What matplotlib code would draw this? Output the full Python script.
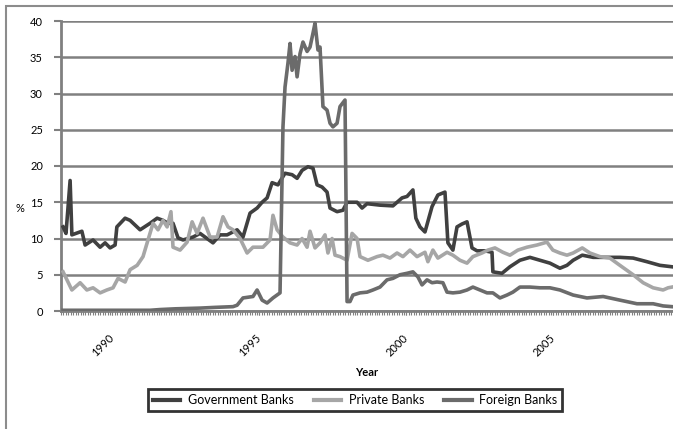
import matplotlib
matplotlib.use("Agg")
import matplotlib.pyplot as plt
from matplotlib.patches import Rectangle
from matplotlib.ticker import FixedLocator, MultipleLocator
import numpy as np

# decimal years and % values for each bank group
gov_t = [1988.34, 1988.44, 1988.58, 1988.64, 1988.98, 1989.09, 1989.36, 1989.60, 1989.77, 1989.94,
         1990.11, 1990.17, 1990.45, 1990.62, 1990.96, 1991.30, 1991.54, 1991.74, 1991.91, 1992.08,
         1992.25, 1992.42, 1992.76, 1993.00, 1993.44, 1993.68, 1993.92, 1994.26, 1994.46, 1994.70,
         1994.94, 1995.11, 1995.28, 1995.45, 1995.65, 1995.89, 1996.13, 1996.30, 1996.47, 1996.67,
         1996.84, 1996.98, 1997.15, 1997.32, 1997.42, 1997.66, 1997.86, 1998.00, 1998.34, 1998.51,
         1998.68, 1999.12, 1999.56, 1999.87, 2000.04, 2000.24, 2000.34, 2000.48, 2000.65, 2000.89,
         2001.09, 2001.33, 2001.43, 2001.60, 2001.74, 2001.91, 2002.08, 2002.25, 2002.42, 2002.69,
         2002.93, 2002.96, 2003.27, 2003.54, 2003.88, 2004.22, 2004.56, 2004.90, 2005.24, 2005.48,
         2005.69, 2006.00, 2006.37, 2006.84, 2007.28, 2007.73, 2008.20, 2008.64, 2009.05]
gov_v = [11.6, 10.7, 18.0, 10.5, 11.0, 9.1, 9.8, 8.8, 9.4, 8.7,
         9.1, 11.6, 12.8, 12.5, 11.2, 12.1, 12.8, 12.5, 12.1, 12.1,
         10.1, 9.8, 10.2, 10.7, 9.4, 10.5, 10.5, 11.2, 10.2, 13.5,
         14.2, 15.0, 15.6, 17.7, 17.4, 19.0, 18.8, 18.3, 19.4, 19.9,
         19.7, 17.4, 17.1, 16.4, 14.2, 13.7, 13.9, 15.0, 15.0, 14.2,
         14.8, 14.6, 14.5, 15.6, 15.8, 16.7, 12.8, 11.6, 10.9, 14.4,
         16.0, 16.4, 9.4, 8.4, 11.6, 12.0, 12.3, 8.7, 8.3, 8.3,
         8.1, 5.4, 5.2, 6.1, 7.0, 7.4, 7.0, 6.6, 5.9, 6.3,
         7.0, 7.7, 7.4, 7.4, 7.4, 7.3, 6.8, 6.3, 6.1]

priv_t = [1988.34, 1988.64, 1988.92, 1989.15, 1989.36, 1989.60, 1989.83, 1990.04, 1990.21, 1990.45,
          1990.62, 1990.86, 1991.06, 1991.23, 1991.40, 1991.57, 1991.74, 1991.88, 1992.01, 1992.08,
          1992.32, 1992.56, 1992.73, 1992.90, 1993.10, 1993.34, 1993.58, 1993.78, 1993.95, 1994.12,
          1994.36, 1994.60, 1994.80, 1995.14, 1995.38, 1995.48, 1995.62, 1995.82, 1996.06, 1996.30,
          1996.47, 1996.64, 1996.74, 1996.91, 1997.08, 1997.25, 1997.35, 1997.49, 1997.59, 1997.76,
          1998.00, 1998.17, 1998.34, 1998.44, 1998.71, 1999.02, 1999.22, 1999.46, 1999.70, 1999.90,
          2000.14, 2000.38, 2000.65, 2000.75, 2000.92, 2001.09, 2001.40, 2001.60, 2001.84, 2002.08,
          2002.28, 2002.59, 2002.79, 2003.03, 2003.30, 2003.54, 2003.81, 2004.12, 2004.46, 2004.80,
          2005.00, 2005.24, 2005.48, 2005.69, 2006.00, 2006.26, 2006.60, 2006.94, 2007.28, 2007.73,
          2008.07, 2008.41, 2008.75, 2008.92, 2009.05]
priv_v = [5.4, 2.9, 3.9, 2.9, 3.2, 2.5, 2.9, 3.2, 4.5, 4.0,
          5.7, 6.3, 7.5, 9.8, 12.1, 11.2, 12.5, 11.6, 13.7, 8.8,
          8.4, 9.5, 12.3, 10.7, 12.8, 10.2, 10.2, 13.0, 11.6, 11.2,
          10.0, 8.0, 8.8, 8.8, 9.8, 13.2, 11.2, 10.2, 9.4, 9.1,
          10.0, 8.8, 11.0, 8.7, 9.4, 10.5, 8.0, 10.0, 7.7, 7.5,
          7.0, 10.7, 10.0, 7.5, 7.0, 7.5, 7.7, 7.3, 8.0, 7.5,
          8.4, 7.5, 8.1, 6.8, 8.4, 7.3, 8.1, 7.7, 7.0, 6.6,
          7.5, 8.0, 8.4, 8.7, 8.1, 7.7, 8.4, 8.8, 9.1, 9.5,
          8.4, 8.0, 7.7, 8.0, 8.7, 8.0, 7.5, 7.3, 6.3, 5.0,
          3.9, 3.2, 2.9, 3.2, 3.3]

for_t = [1988.34, 1989.60, 1991.30, 1991.64, 1992.15, 1993.00, 1993.51, 1994.12, 1994.26, 1994.46,
         1994.80, 1994.94, 1995.11, 1995.28, 1995.48, 1995.72, 1995.82, 1995.89, 1995.99, 1996.06,
         1996.13, 1996.23, 1996.30, 1996.40, 1996.50, 1996.64, 1996.74, 1996.84, 1996.91, 1997.01,
         1997.08, 1997.18, 1997.32, 1997.42, 1997.52, 1997.66, 1997.76, 1997.93, 1998.00, 1998.10,
         1998.20, 1998.44, 1998.68, 1998.88, 1999.12, 1999.36, 1999.56, 1999.80, 2000.04, 2000.24,
         2000.41, 2000.55, 2000.72, 2000.89, 2001.06, 2001.26, 2001.40, 2001.60, 2001.84, 2002.08,
         2002.28, 2002.52, 2002.76, 2002.96, 2003.20, 2003.44, 2003.64, 2003.88, 2004.22, 2004.56,
         2004.90, 2005.24, 2005.69, 2006.16, 2006.71, 2007.28, 2007.86, 2008.41, 2008.75, 2009.05]
for_v = [0.1, 0.1, 0.1, 0.2, 0.3, 0.4, 0.5, 0.6, 0.8, 1.8,
         2.0, 2.9, 1.5, 1.1, 1.8, 2.5, 25.4, 30.9, 34.2, 36.9,
         33.2, 35.1, 32.3, 35.5, 37.1, 35.8, 36.4, 38.3, 39.7, 36.0,
         36.4, 28.2, 27.7, 25.9, 25.4, 25.9, 28.2, 29.1, 1.3, 1.3,
         2.2, 2.5, 2.6, 2.9, 3.3, 4.3, 4.5, 5.0, 5.2, 5.4,
         4.7, 3.6, 4.3, 3.9, 4.0, 3.9, 2.6, 2.5, 2.6, 2.9,
         3.3, 2.9, 2.5, 2.5, 1.8, 2.2, 2.6, 3.3, 3.3, 3.2,
         3.2, 2.9, 2.2, 1.8, 2.0, 1.5, 1.0, 1.0, 0.7, 0.6]

year_ticks = [1990, 1995, 2000, 2005]
series = [("Government Banks", gov_t, gov_v, "#404040"),
          ("Private Banks", priv_t, priv_v, "#a6a6a6"),
          ("Foreign Banks", for_t, for_v, "#6b6b6b")]

plt.rcParams["font.family"] = ["Lato", "DejaVu Sans"]
grid_c = "#808080"

fig = plt.figure(figsize=(6.73, 4.29), dpi=100)
ax = fig.add_axes([61 / 673, 1 - 311 / 429, 612 / 673, 290 / 429])

# outer chart border
fig.patches.append(Rectangle((6 / 673, -0.1), 1.2, 1.1 - 6 / 429, transform=fig.transFigure,
                             fill=False, ec="#8c8c8c", lw=1.5))

for name, t, v, c in series:
    ax.plot(t, v, color=c, lw=2.6, label=name, solid_joinstyle="round", zorder=3)

ax.set_xlim(1988.27, 1988.27 + 612 / 29.4)
ax.set_ylim(0, 40)
ax.yaxis.set_major_locator(MultipleLocator(5))
ax.yaxis.grid(True, color=grid_c, lw=1.8)
ax.set_axisbelow(True)

ax.xaxis.set_major_locator(FixedLocator(year_ticks))
ax.xaxis.set_minor_locator(FixedLocator(np.arange(1988.27, 2009.1, 1 / 12)))
ax.set_xticklabels([str(y) for y in year_ticks], rotation=45, ha="right", va="center",
                   rotation_mode="anchor", fontsize=8)
ax.tick_params(axis="x", which="both", length=3, width=0.8, color=grid_c, pad=15)
ax.tick_params(axis="y", length=5, width=1.5, color=grid_c, labelsize=8, pad=8)

for s in ["top", "right"]:
    ax.spines[s].set_visible(False)
for s in ["left", "bottom"]:
    ax.spines[s].set_color(grid_c)
    ax.spines[s].set_linewidth(2)

fig.text(15 / 673, 1 - 208 / 429, "%", fontsize=8, ha="left", va="center")
fig.text(367 / 673, 1 - 373 / 429, "Year", fontsize=8, fontweight="bold", ha="center", va="center")

leg = fig.legend(loc="center", bbox_to_anchor=(355 / 673, 1 - 400 / 429), ncol=3,
                 fontsize=9, frameon=True, fancybox=False, handlelength=2.2,
                 columnspacing=1.6, handletextpad=0.6, borderpad=0.4)
leg.get_frame().set_edgecolor("black")
leg.get_frame().set_linewidth(2)
for line in leg.get_lines():
    line.set_linewidth(3)

fig.savefig("out.png", dpi=100)
